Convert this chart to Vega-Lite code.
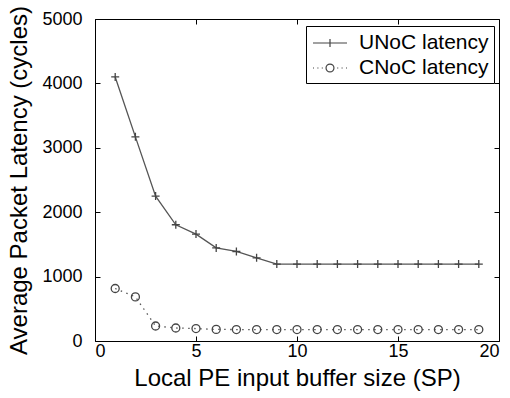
{
  "$schema": "https://vega.github.io/schema/vega-lite/v6.json",
  "width": 404,
  "height": 322,
  "autosize": "none",
  "padding": {"left": 95, "top": 19, "right": 11, "bottom": 57},
  "background": "white",
  "config": {
    "font": "Liberation Sans",
    "view": {"stroke": "black", "strokeWidth": 1},
    "axis": {"grid": false, "domainColor": "black", "tickColor": "black", "labelColor": "black", "titleColor": "black", "labelFont": "Liberation Sans", "titleFont": "Liberation Sans", "titleFontWeight": "normal", "labelFontSize": 18, "titleFontSize": 24, "domain": false}
  },
  "data": {"values": [
    {"size": 1, "series": "UNoC latency", "latency": 4100},
    {"size": 2, "series": "UNoC latency", "latency": 3170},
    {"size": 3, "series": "UNoC latency", "latency": 2250},
    {"size": 4, "series": "UNoC latency", "latency": 1805},
    {"size": 5, "series": "UNoC latency", "latency": 1660},
    {"size": 6, "series": "UNoC latency", "latency": 1446},
    {"size": 7, "series": "UNoC latency", "latency": 1390},
    {"size": 8, "series": "UNoC latency", "latency": 1291},
    {"size": 9, "series": "UNoC latency", "latency": 1195},
    {"size": 10, "series": "UNoC latency", "latency": 1195},
    {"size": 11, "series": "UNoC latency", "latency": 1195},
    {"size": 12, "series": "UNoC latency", "latency": 1195},
    {"size": 13, "series": "UNoC latency", "latency": 1195},
    {"size": 14, "series": "UNoC latency", "latency": 1195},
    {"size": 15, "series": "UNoC latency", "latency": 1195},
    {"size": 16, "series": "UNoC latency", "latency": 1195},
    {"size": 17, "series": "UNoC latency", "latency": 1195},
    {"size": 18, "series": "UNoC latency", "latency": 1195},
    {"size": 19, "series": "UNoC latency", "latency": 1195},
    {"size": 1, "series": "CNoC latency", "latency": 815},
    {"size": 2, "series": "CNoC latency", "latency": 685},
    {"size": 3, "series": "CNoC latency", "latency": 233},
    {"size": 4, "series": "CNoC latency", "latency": 202},
    {"size": 5, "series": "CNoC latency", "latency": 193},
    {"size": 6, "series": "CNoC latency", "latency": 180},
    {"size": 7, "series": "CNoC latency", "latency": 178},
    {"size": 8, "series": "CNoC latency", "latency": 178},
    {"size": 9, "series": "CNoC latency", "latency": 178},
    {"size": 10, "series": "CNoC latency", "latency": 178},
    {"size": 11, "series": "CNoC latency", "latency": 178},
    {"size": 12, "series": "CNoC latency", "latency": 178},
    {"size": 13, "series": "CNoC latency", "latency": 178},
    {"size": 14, "series": "CNoC latency", "latency": 178},
    {"size": 15, "series": "CNoC latency", "latency": 178},
    {"size": 16, "series": "CNoC latency", "latency": 178},
    {"size": 17, "series": "CNoC latency", "latency": 178},
    {"size": 18, "series": "CNoC latency", "latency": 178},
    {"size": 19, "series": "CNoC latency", "latency": 178}
  ]},
  "layer": [
    {
      "transform": [{"filter": "datum.series === 'UNoC latency'"}],
      "mark": {"type": "line", "color": "#555555", "strokeWidth": 1.3},
      "encoding": {
        "x": {"field": "size", "type": "quantitative", "scale": {"domain": [0, 20], "nice": false},
              "axis": {"orient": "bottom", "tickSize": -5, "title": "Local PE input buffer size (SP)", "values": [0, 5, 10, 15, 20], "format": "d", "labelPadding": 6, "titlePadding": 6}},
        "y": {"field": "latency", "type": "quantitative", "scale": {"domain": [0, 5000], "nice": false},
              "axis": {"orient": "left", "tickSize": -5, "title": "Average Packet Latency (cycles)", "values": [0, 1000, 2000, 3000, 4000, 5000], "format": "d", "labelPadding": 18, "titlePadding": 10}}
      }
    },
    {
      "transform": [{"filter": "datum.series === 'CNoC latency'"}],
      "mark": {"type": "line", "color": "#555555", "strokeWidth": 1.3, "strokeDash": [1.5, 4.5]},
      "encoding": {
        "x": {"field": "size", "type": "quantitative", "axis": null},
        "y": {"field": "latency", "type": "quantitative", "axis": null}
      }
    },
    {
      "mark": {"type": "point", "filled": false, "strokeWidth": 1.3, "color": "#444444", "opacity": 1},
      "encoding": {
        "x": {"field": "size", "type": "quantitative", "axis": {"orient": "top", "tickSize": -5, "title": null, "labels": false, "values": [0, 5, 10, 15, 20]}},
        "y": {"field": "latency", "type": "quantitative", "axis": {"orient": "right", "tickSize": -5, "title": null, "labels": false, "values": [0, 1000, 2000, 3000, 4000, 5000]}},
        "shape": {"field": "series", "type": "nominal",
                  "scale": {"domain": ["UNoC latency", "CNoC latency"], "range": ["M-1,0H1M0,-1V1", "circle"]},
                  "legend": null},
        "size": {"value": 64}
      }
    },
    {
      "mark": {"type": "point", "filled": false, "opacity": 0},
      "encoding": {
        "x": {"field": "size", "type": "quantitative", "axis": null},
        "y": {"field": "latency", "type": "quantitative", "axis": null},
        "shape": {"field": "series", "type": "nominal",
                  "scale": {"domain": ["UNoC latency", "CNoC latency"], "range": ["M-1.55,0H1.55M0,-0.36V0.36", "M-1.55,0H-1.45M-1.15,0H-1.05M-0.75,0H-0.65M0.65,0H0.75M1.05,0H1.15M1.45,0H1.55M0.36,0A0.36,0.36 0 1,1 -0.36,0A0.36,0.36 0 1,1 0.36,0"]},
                  "legend": {"title": null, "orient": "none", "legendX": 211, "legendY": 7,
                             "strokeColor": "black", "fillColor": "white", "padding": 5, "rowPadding": 3,
                             "labelFontSize": 21, "labelColor": "black", "labelFont": "Liberation Sans", "labelOffset": 17,
                             "symbolSize": 484, "symbolOffset": 7, "symbolOpacity": 1, "symbolStrokeColor": "#444444", "symbolStrokeWidth": 1.2, "symbolFillColor": "transparent"}},
        "size": {"value": 64}
      }
    }
  ],
  "resolve": {"axis": {"x": "independent", "y": "independent"}, "scale": {"shape": "independent"}}
}
